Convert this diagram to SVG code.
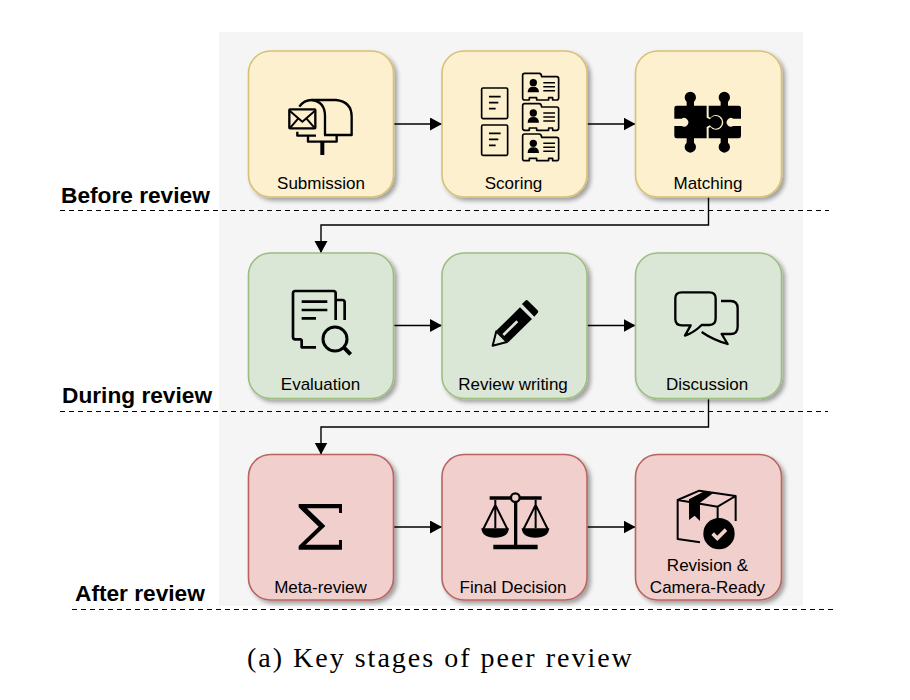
<svg xmlns="http://www.w3.org/2000/svg" xmlns:xlink="http://www.w3.org/1999/xlink" width="910" height="700" viewBox="0 0 910 700">
<style>
text{font-family:"Liberation Sans",Arial,sans-serif;fill:#000}
.lb{font-size:17px;text-anchor:middle}
.st{font-size:22.7px;font-weight:700}
.cap{font-family:"Liberation Serif","Times New Roman",serif;font-size:28px;letter-spacing:2px}
.y{fill:#fcf0cf;stroke:#d9c074}
.g{fill:#dae7d6;stroke:#9dbd80}
.r{fill:#f1cfcd;stroke:#b9655f}
.box{stroke-width:1.6;filter:url(#sh)}
.ln{fill:none;stroke:#000;stroke-linecap:butt;stroke-linejoin:round}
.fl{fill:#000;stroke:none}
.con{fill:none;stroke:#000;stroke-width:1.4;marker-end:url(#ah)}
.dash{stroke:#000;stroke-width:1.2;stroke-dasharray:5 4;fill:none}
</style>
<defs>
<filter id="sh" x="-10%" y="-10%" width="125%" height="125%"><feDropShadow dx="3" dy="3" stdDeviation="2.2" flood-color="#000" flood-opacity=".35"/></filter>
<marker id="ah" markerUnits="userSpaceOnUse" markerWidth="13" markerHeight="14" refX="12" refY="6.5" orient="auto"><path d="M0,0L12,6.5L0,13Z" fill="#000"/></marker>
<g id="card">
<path class="ln" stroke-width="5" d="M854,100H898Q904,100 905,110H950Q956,110 956,116V174Q956,180 950,180H938V173H926V180H890V173H868V180H854Q848,180 848,174V106Q848,100 854,100Z"/>
<circle class="fl" cx="880" cy="128" r="11"/>
<path class="fl" d="M863,157Q863,140 880,140Q897,140 897,157Z"/>
<path class="ln" stroke-width="4.500" d="M910,128H945M910,140H945M910,152H945"/>
</g>
</defs>
<rect x="219" y="32" width="584" height="574" fill="#f5f5f5"/>

<g id="dividers">
<line class="dash" x1="60" y1="210.500" x2="829" y2="210.500"/>
<line class="dash" x1="60" y1="411.500" x2="828" y2="411.500"/>
<line class="dash" x1="72" y1="609.500" x2="833" y2="609.500"/>
</g>

<g id="connectors">
<path class="con" d="M393.500,124H442"/>
<path class="con" d="M587,124H635.500"/>
<path class="con" d="M708.500,197V225H321V253"/>
<path class="con" d="M393.500,325.500H442"/>
<path class="con" d="M587,325.500H635.500"/>
<path class="con" d="M708.500,398V427H321V454.500"/>
<path class="con" d="M393.500,527H442"/>
<path class="con" d="M587,527H635.500"/>
</g>

<g id="submission">
<rect class="box y" x="248.500" y="51" width="145" height="146" rx="22"/>
<g transform="translate(240,40) scale(.3333)">
<rect class="ln" stroke-width="7" x="148" y="208" width="78" height="57" rx="2"/>
<path class="ln" stroke-width="6" d="M149,212L187,245L225,212M151,263L175,235M223,263L199,235"/>
<path class="ln" stroke-width="7" d="M178,200Q192,180 215,180H288Q335,185 335,230V285H252M172,275V287H228"/>
<path class="ln" stroke-width="7" d="M215,180Q255,185 255,228V285"/>
<path class="ln" stroke-width="7" d="M204,287V305H290V287"/>
<path class="ln" stroke-width="12" d="M247,305V345"/>
</g>
<text class="lb" x="321" y="188.500">Submission</text>
</g>

<g id="scoring">
<rect class="box y" x="442" y="51" width="145" height="146" rx="22"/>
<g transform="translate(240,40) scale(.3333)">
<rect class="ln" stroke-width="5" x="725" y="144" width="78" height="92" rx="4"/>
<path class="ln" stroke-width="5" d="M747,170H782M747,188H775M747,206H767"/>
<rect class="ln" stroke-width="5" x="725" y="255" width="78" height="91" rx="4"/>
<path class="ln" stroke-width="5" d="M747,280H782M747,298H775M747,316H767"/>
<use xlink:href="#card" href="#card"/>
<use xlink:href="#card" href="#card" y="91"/>
<use xlink:href="#card" href="#card" y="182"/>
</g>
<text class="lb" x="513.500" y="188.500">Scoring</text>
</g>

<g id="matching">
<rect class="box y" x="635.500" y="51" width="146" height="146" rx="22"/>
<g transform="translate(570,40) scale(.3333)">
<path class="fl" d="M320,197H350V185A17,17 0 1 1 372,185V197H410V233L420,238A19,19 0 1 1 420,256L410,261V295H372V308A17,17 0 1 1 350,308V295H320Q313,295 313,288V258H335A13,13 0 1 0 335,236H313V204Q313,197 320,197Z"/>
<path class="fl" d="M416,197H452V185A17,17 0 1 1 474,185V197H506Q513,197 513,204V236H490A13,13 0 1 0 490,258H513V288Q513,295 506,295H474V308A17,17 0 1 1 452,308V295H416V264L421,261A22,22 0 1 0 421,233L416,230Z"/>
</g>
<text class="lb" x="708" y="188.500">Matching</text>
</g>

<g id="evaluation">
<rect class="box g" x="248.500" y="253" width="145" height="145.500" rx="22"/>
<g transform="translate(240,245) scale(.3333)">
<path class="ln" stroke-width="8" d="M185,283H166Q159,283 159,276V145Q159,138 166,138H280Q287,138 287,145V225"/>
<path class="ln" stroke-width="8" d="M290,165H307Q314,165 314,172V225"/>
<path class="ln" stroke-width="8" d="M185,283V307H228"/>
<path class="ln" stroke-width="8" d="M185,170H262M185,195H262M185,220H228"/>
<circle class="ln" stroke-width="9" cx="285" cy="282" r="36"/>
<path class="ln" stroke-width="12" d="M312,308L332,328"/>
</g>
<text class="lb" x="320.500" y="389.500">Evaluation</text>
</g>

<g id="review-writing">
<rect class="box g" x="442" y="253" width="145" height="145.500" rx="22"/>
<g transform="translate(240,245) scale(.3333)">
<path class="fl" d="M770,256L840,187L876,222L805,292Z"/>
<path fill="#dae7d6" stroke="#000" stroke-width="6" stroke-linejoin="round" d="M758,302L769,259L801,291Z"/>
<path fill="none" stroke="#dae7d6" stroke-width="8" d="M790,270L832,229"/>
<path class="fl" d="M846,177L856,167Q860,163 864,167L893,196Q897,200 893,204L883,215Z"/>
</g>
<text class="lb" x="513" y="389.500">Review writing</text>
</g>

<g id="discussion">
<rect class="box g" x="635.500" y="253" width="146" height="145.500" rx="22"/>
<g transform="translate(570,245) scale(.3333)">
<path class="ln" stroke-width="7" d="M345,272L362,241H335Q316,241 316,222V160Q316,142 335,142H418Q437,142 437,160V220Q437,240 418,240H395Q372,263 345,272Z"/>
<path class="ln" stroke-width="7" d="M453,168H482Q503,168 503,190V245Q503,267 482,267H455L473,297Q430,285 395,261"/>
</g>
<text class="lb" x="707" y="389.500">Discussion</text>
</g>

<g id="meta-review">
<rect class="box r" x="248.500" y="454.500" width="145" height="145.500" rx="22"/>
<g transform="translate(240,445) scale(.3333)">
<path class="fl" d="M176,177H306V204H297V190H201L256,243L197,299H297V285H306V314H176V303L236,245L176,187Z"/>
</g>
<text class="lb" x="320.500" y="592.500">Meta-review</text>
</g>

<g id="final-decision">
<rect class="box r" x="442" y="454.500" width="145" height="145.500" rx="22"/>
<g transform="translate(240,445) scale(.3333)">
<path class="ln" stroke-width="11" d="M749,159H905"/>
<path class="ln" stroke-width="10" d="M827,170V305"/>
<path class="ln" stroke-width="14" d="M760,306H893"/>
<circle cx="826" cy="158" r="13" fill="#f1cfcd" stroke="#000" stroke-width="7"/>
<path class="ln" stroke-width="6" d="M766,165V250M766,180L730,252M766,180L802,252M887,165V250M887,180L851,252M887,180L923,252"/>
<path class="fl" d="M724,250H807Q805,278 765,278Q726,278 724,250ZM845,250H928Q926,278 886,278Q847,278 845,250Z"/>
</g>
<text class="lb" x="513" y="592.500">Final Decision</text>
</g>

<g id="revision">
<rect class="box r" x="635.500" y="454.500" width="146" height="145.500" rx="22"/>
<g transform="translate(570,445) scale(.3333)">
<path class="ln" stroke-width="6" d="M390,292L323,282V165L388,137L497,153V228M323,165L443,185L497,153M443,185V222"/>
<path class="fl" d="M357,163L403,139L430,144L390,173V228L374,212L357,225Z"/>
<circle class="fl" cx="447" cy="266" r="47"/>
<path fill="none" stroke="#f1cfcd" stroke-width="11" d="M428,266L442,280L468,254"/>
</g>
<text class="lb" x="707.500" y="570.500">Revision &amp;</text>
<text class="lb" x="707.500" y="592.500">Camera-Ready</text>
</g>

<g id="stage-labels">
<text class="st" x="61" y="202.500">Before review</text>
<text class="st" x="62" y="403">During review</text>
<text class="st" x="75" y="601">After review</text>
</g>
<text class="cap" x="247" y="667">(a) Key stages of peer review</text>
</svg>
